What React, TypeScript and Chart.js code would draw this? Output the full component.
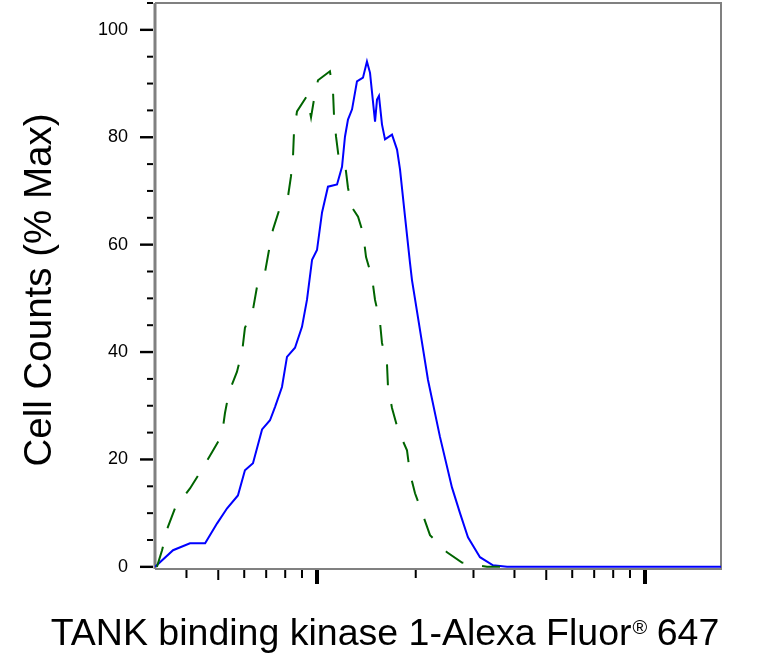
import React, { useEffect, useRef } from 'react';
import { Chart, registerables } from 'chart.js';

Chart.register(...registerables);

const FONT = '"Liberation Sans", Arial, Helvetica, sans-serif';

// fluorescence intensity (log axis) and % of max
const blueX = [321, 364, 410, 456, 496, 532, 574, 603, 638, 680, 719, 745, 782, 810, 857, 900, 932, 966, 1000, 1036, 1080, 1151, 1192, 1217, 1243, 1279, 1324, 1381, 1420, 1451, 1503, 1524, 1545, 1578, 1612, 1693, 1754, 1791, 1855, 1921, 1948, 2061, 2180, 2371, 2579, 2729, 2886, 3140, 3441, 3796, 17050];
const blueY = [0, 3.1, 4.4, 4.4, 8.1, 10.9, 13.3, 18.0, 19.3, 25.6, 27.3, 29.8, 33.5, 39.1, 40.8, 44.7, 49.7, 57.2, 59.0, 66.0, 70.8, 71.2, 74.5, 80.1, 83.3, 85.2, 90.4, 91.1, 94.1, 92.0, 82.9, 87.0, 87.7, 82.4, 79.6, 80.5, 77.7, 74.0, 65.2, 56.6, 53.4, 44.1, 34.8, 24.2, 14.8, 10.0, 5.5, 1.8, 0.3, 0, 0];

const greenX = [325, 337, 351, 369, 410, 440, 479, 513, 524, 539, 570, 591, 603, 638, 656, 694, 714, 734, 771, 816, 833, 845, 851, 869, 932, 959, 979, 1007, 1095, 1119, 1127, 1143, 1167, 1217, 1243, 1279, 1334, 1381, 1411, 1472, 1503, 1556, 1578, 1635, 1646, 1693, 1766, 1881, 1921, 1990, 2105, 2211, 2491, 2767, 3298, 3614];
const greenY = [0, 3.1, 7.4, 10.9, 14.6, 17.6, 21.4, 24.5, 28.6, 32.5, 36.3, 40.0, 44.5, 47.9, 52.1, 54.8, 59.0, 62.8, 66.9, 69.0, 72.7, 76.4, 81.1, 84.8, 87.7, 83.7, 87.0, 90.6, 92.3, 88.5, 83.9, 80.1, 75.8, 75.2, 70.6, 66.9, 65.2, 62.2, 57.7, 53.8, 49.7, 45.6, 41.7, 37.6, 33.5, 29.6, 25.5, 21.7, 17.4, 13.7, 9.6, 5.9, 2.7, 0.8, 0, 0];

const yLabelTicks = [0, 20, 40, 60, 80, 100];
const yMinorTicks = [5, 10, 15, 25, 30, 35, 45, 50, 55, 65, 70, 75, 85, 90, 95, 105];
const xMajorTicks = [1000, 10000];
const xMinorTicks = [400, 500, 600, 700, 800, 900, 2000, 3000, 4000, 5000, 6000, 7000, 8000, 9000];
const xMidTicks = [500, 5000];

const xTitle = 'TANK binding kinase 1-Alexa Fluor';
const xTitleMark = '®';
const xTitleEnd = ' 647';
const yTitle = 'Cell Counts (% Max)';

const toPoints = (xs: number[], ys: number[]) => xs.map((x, i) => ({ x, y: ys[i] }));

const framePlugin = {
  id: 'frame',
  beforeDatasetsDraw(chart: any) {
    const { ctx, chartArea: a, scales } = chart;
    const xs = scales.x;
    const ys = scales.y;
    ctx.save();
    ctx.strokeStyle = '#808080';
    ctx.lineWidth = 2;
    ctx.beginPath();
    ctx.moveTo(a.left, a.top);
    ctx.lineTo(a.right, a.top);
    ctx.lineTo(a.right, a.bottom);
    ctx.lineTo(a.left, a.bottom);
    ctx.stroke();
    ctx.lineWidth = 3;
    ctx.beginPath();
    ctx.moveTo(a.left, a.top);
    ctx.lineTo(a.left, a.bottom);
    ctx.stroke();

    ctx.fillStyle = '#000';
    yMinorTicks.forEach(v => {
      const p = ys.getPixelForValue(v);
      ctx.fillRect(a.left - 8, p - 1, 6, 2);
    });
    yLabelTicks.forEach(v => {
      const p = ys.getPixelForValue(v);
      ctx.fillRect(a.left - 15, p - 1.2, 13, 2.4);
    });
    xMinorTicks.forEach(v => {
      const p = xs.getPixelForValue(v);
      const len = xMidTicks.includes(v) ? 10 : 8;
      ctx.fillRect(p - 1, a.bottom + 1, 2, len);
    });
    xMajorTicks.forEach(v => {
      const p = xs.getPixelForValue(v);
      ctx.fillRect(p - 2, a.bottom + 1, 4, 14);
    });
    ctx.restore();
  },
  afterDraw(chart: any) {
    const { ctx, chartArea: a } = chart;
    ctx.save();
    ctx.fillStyle = '#000';
    ctx.textBaseline = 'alphabetic';

    // y title
    ctx.font = `38.5px ${FONT}`;
    ctx.textAlign = 'center';
    ctx.translate(51, (a.top + a.bottom) / 2 + 4);
    ctx.rotate(-Math.PI / 2);
    ctx.fillText(yTitle, 0, 0);
    ctx.restore();

    // x title with superscript mark
    ctx.save();
    ctx.fillStyle = '#000';
    ctx.textAlign = 'left';
    ctx.textBaseline = 'alphabetic';
    ctx.font = `37.5px ${FONT}`;
    const w1 = ctx.measureText(xTitle).width;
    const w3 = ctx.measureText(xTitleEnd).width;
    ctx.font = `20px ${FONT}`;
    const w2 = ctx.measureText(xTitleMark).width;
    const start = 385 - (w1 + w2 + w3) / 2;
    const base = 645;
    ctx.font = `37.5px ${FONT}`;
    ctx.fillText(xTitle, start, base);
    ctx.fillText(xTitleEnd, start + w1 + w2, base);
    ctx.font = `20px ${FONT}`;
    ctx.fillText(xTitleMark, start + w1 + 1, base - 11);
    ctx.restore();
  }
};

const App: React.FC = () => {
  const canvasRef = useRef<HTMLCanvasElement | null>(null);

  useEffect(() => {
    const canvas = canvasRef.current;
    if (!canvas) return;
    document.body.style.margin = '0';

    const chart = new Chart(canvas, {
      type: 'line',
      data: {
        datasets: [
          {
            label: 'isotype',
            data: toPoints(greenX, greenY),
            borderColor: '#006400',
            borderWidth: 2,
            borderDash: [21, 19],
            pointRadius: 0,
            tension: 0,
            fill: false
          },
          {
            label: 'TBK1',
            data: toPoints(blueX, blueY),
            borderColor: '#0000ff',
            borderWidth: 2,
            pointRadius: 0,
            tension: 0,
            fill: false
          }
        ]
      },
      options: {
        responsive: false,
        animation: false,
        layout: { padding: { top: 3, right: 44, left: 0, bottom: 0 } },
        plugins: {
          legend: { display: false },
          tooltip: { enabled: false }
        },
        scales: {
          x: {
            type: 'logarithmic',
            min: 320.7,
            max: 17050,
            grid: { display: false, drawTicks: false },
            border: { display: false },
            ticks: { display: false },
            afterFit: (scale: any) => {
              scale.height = 96;
              scale.paddingLeft = 0;
              scale.paddingRight = 0;
            }
          },
          y: {
            type: 'linear',
            min: -0.4,
            max: 105,
            grid: { display: false, drawTicks: false },
            border: { display: false },
            afterBuildTicks: (scale: any) => {
              scale.ticks = yLabelTicks.map(v => ({ value: v }));
            },
            ticks: {
              padding: 27,
              color: '#000',
              font: { family: FONT, size: 18 },
              autoSkip: false
            },
            afterFit: (scale: any) => {
              scale.width = 155;
              scale.paddingTop = 0;
              scale.paddingBottom = 0;
            }
          }
        }
      },
      plugins: [framePlugin]
    });

    return () => {
      chart.destroy();
    };
  }, []);

  return (
    <div style={{ position: 'absolute', left: 0, top: 0, width: 765, height: 665, background: '#fff' }}>
      <canvas ref={canvasRef} width={765} height={665} />
    </div>
  );
};

export default App;
